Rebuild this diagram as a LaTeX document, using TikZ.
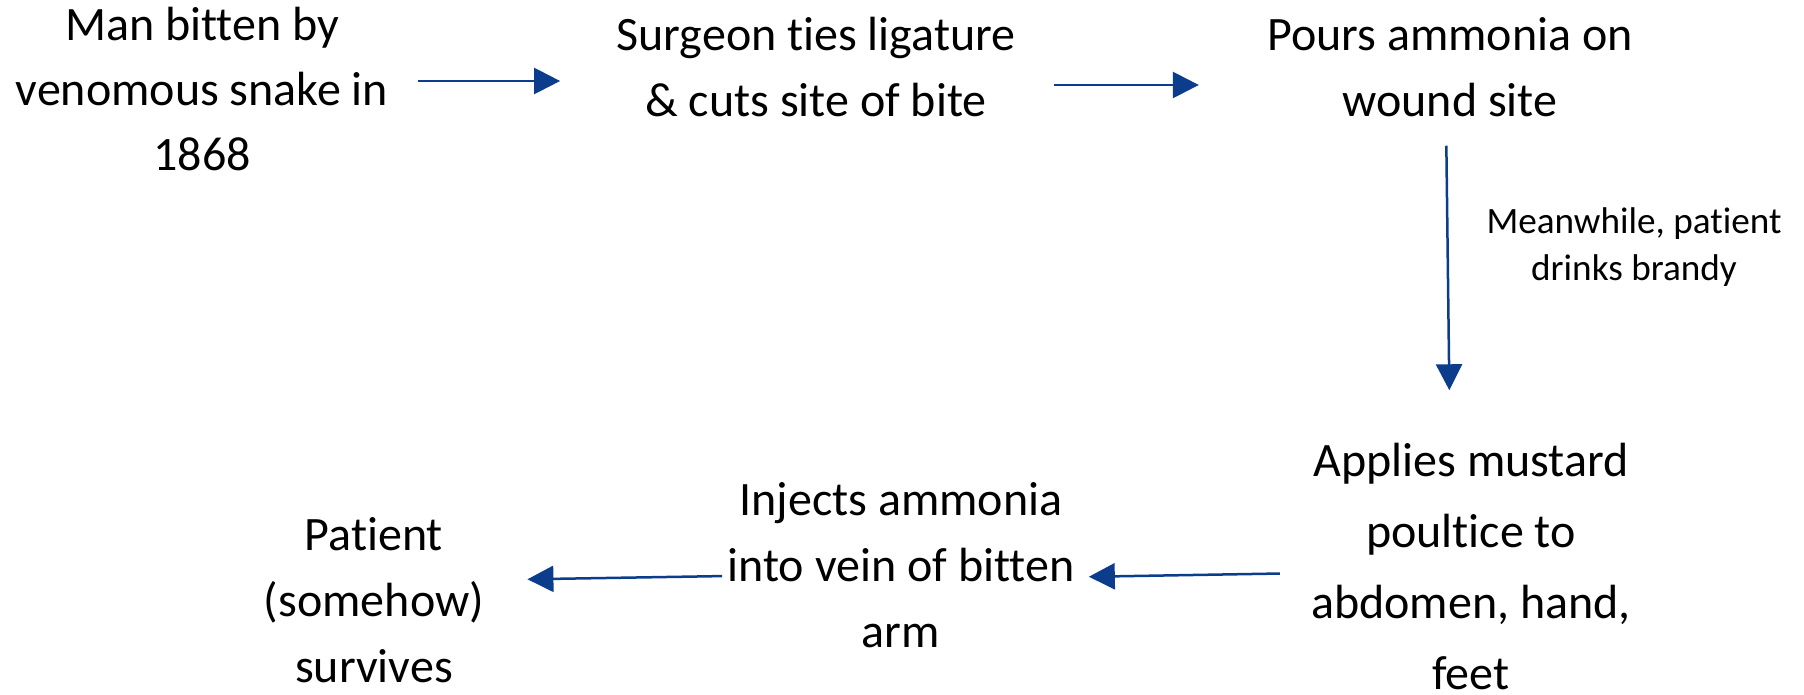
\documentclass[tikz,border=0pt]{standalone}
\usepackage{fontspec}
\setmainfont{Carlito}[Ligatures=NoCommon]
\usepackage{xcolor}
\usetikzlibrary{arrows.meta}
\definecolor{snakeblue}{HTML}{0B3D8C}

\begin{document}
\begin{tikzpicture}[
  x=0.5pt, y=-0.5pt,
  every node/.style={align=center, inner sep=0pt},
  stage/.style={font=\fontsize{24}{33}\selectfont, anchor=base},
  note/.style={font=\fontsize{18.6}{24}\selectfont, anchor=base},
  arrow/.style={-{Triangle[length=13pt, width=13pt]}, line width=1.25pt, snakeblue}
]
\useasboundingbox (0,0) rectangle (1804,695);

%% Row 0: bite and first treatment (base = last line)
\node[stage, font=\fontsize{24}{32.5}\selectfont] (bite) at (202,171) {Man bitten by\\venomous snake in\\1868};
\node[stage, font=\fontsize{24}{33}\selectfont] (surgeon) at (816,117) {Surgeon ties ligature\\\& cuts site of bite};
\node[stage, font=\fontsize{24}{33}\selectfont] (pours) at (1450,117) {Pours ammonia on\\wound site};

%% Side note on the way down
\node[note] (brandy) at (1634,281) {Meanwhile, patient\\drinks brandy};

%% Row 1: later treatment and outcome
\node[stage, font=\fontsize{24}{35.5}\selectfont] (mustard) at (1471,689) {Applies mustard\\poultice to\\abdomen, hand,\\feet};
\node[stage] (inject) at (901,647) {Injects ammonia\\into vein of bitten\\arm};
\node[stage] (survive) at (374,682) {Patient\\(somehow)\\survives};

%% Arrows
\draw[arrow, shorten <=14.5pt, shorten >=28pt] (bite.east |- 0,81) -- (surgeon.west |- 0,81);
\draw[arrow, shorten <=19pt, shorten >=34pt] (surgeon.east |- 0,85) -- (pours.west |- 0,85);
\draw[arrow, shorten <=14pt, shorten >=26pt] ([xshift=-2pt]pours.south) -- ([xshift=-10.5pt]mustard.north);
\draw[arrow, shorten <=15.5pt, shorten >=7pt] (mustard.west |- 0,573) -- (inject.east |- 0,577);
\draw[arrow, shorten <=2.5pt, shorten >=21.5pt] (inject.west |- 0,576) -- (survive.east |- 0,580);

\end{tikzpicture}
\end{document}
